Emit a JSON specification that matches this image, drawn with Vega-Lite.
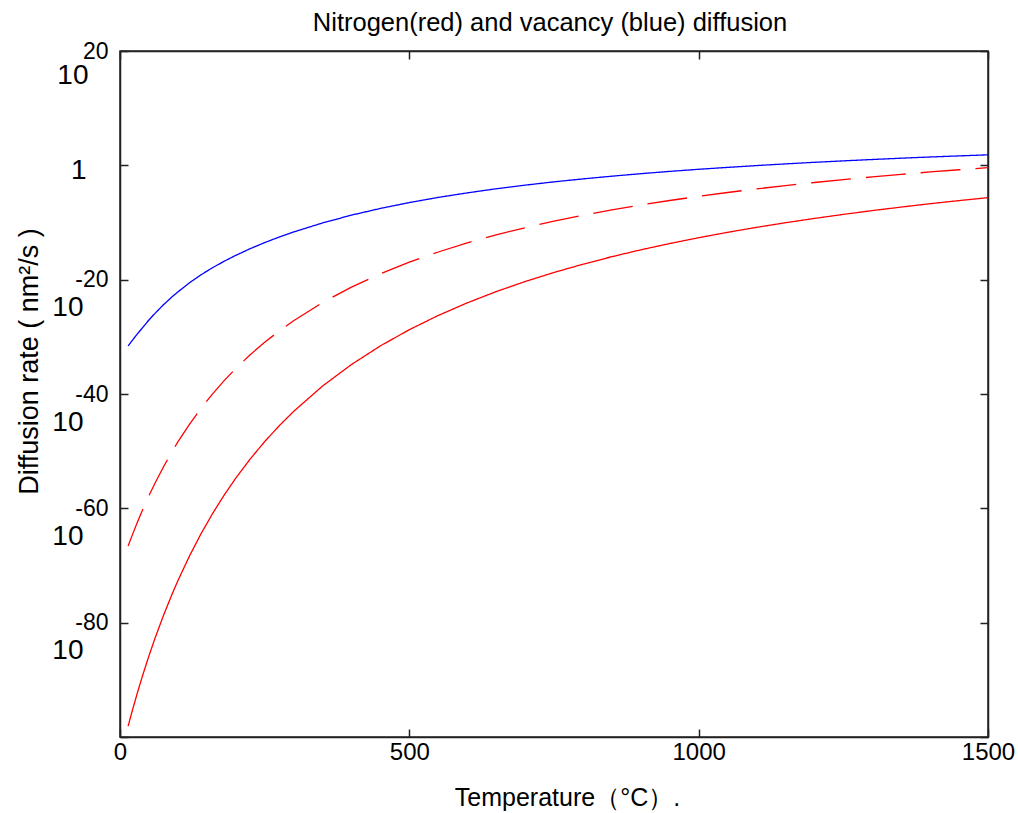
{
  "$schema": "https://vega.github.io/schema/vega-lite/v6.json",
  "width": 868,
  "height": 686,
  "autosize": {"type": "none"},
  "padding": {"left": 120, "top": 51, "right": 30, "bottom": 76},
  "background": "white",
  "config": {
    "font": "Liberation Sans",
    "view": {"stroke": "#222", "strokeWidth": 1.5},
    "axis": {"grid": false, "domainColor": "#222", "domainWidth": 1.5, "tickColor": "#222", "tickWidth": 1.5, "labelColor": "#000", "titleColor": "#000", "titleFontWeight": "normal", "labelFont": "Liberation Sans", "titleFont": "Liberation Sans"}
  },
  "title": {"text": "Nitrogen(red) and vacancy (blue) diffusion", "fontSize": 25.5, "fontWeight": "normal", "color": "#000", "font": "Liberation Sans", "anchor": "middle", "frame": "group", "baseline": "alphabetic", "offset": 19, "dx": -4, "dy": 35},
  "datasets": {
    "curves": [
      {"T": 14, "series": "Vacancy", "log10D": -31.60},
      {"T": 20, "series": "Vacancy", "log10D": -30.78},
      {"T": 30, "series": "Vacancy", "log10D": -29.49},
      {"T": 40, "series": "Vacancy", "log10D": -28.28},
      {"T": 50, "series": "Vacancy", "log10D": -27.05},
      {"T": 60, "series": "Vacancy", "log10D": -25.95},
      {"T": 75, "series": "Vacancy", "log10D": -24.40},
      {"T": 90, "series": "Vacancy", "log10D": -23.00},
      {"T": 100, "series": "Vacancy", "log10D": -22.15},
      {"T": 120, "series": "Vacancy", "log10D": -20.55},
      {"T": 140, "series": "Vacancy", "log10D": -19.15},
      {"T": 160, "series": "Vacancy", "log10D": -17.90},
      {"T": 180, "series": "Vacancy", "log10D": -16.78},
      {"T": 200, "series": "Vacancy", "log10D": -15.75},
      {"T": 225, "series": "Vacancy", "log10D": -14.58},
      {"T": 250, "series": "Vacancy", "log10D": -13.52},
      {"T": 275, "series": "Vacancy", "log10D": -12.55},
      {"T": 300, "series": "Vacancy", "log10D": -11.66},
      {"T": 350, "series": "Vacancy", "log10D": -10.08},
      {"T": 400, "series": "Vacancy", "log10D": -8.71},
      {"T": 450, "series": "Vacancy", "log10D": -7.54},
      {"T": 500, "series": "Vacancy", "log10D": -6.51},
      {"T": 550, "series": "Vacancy", "log10D": -5.61},
      {"T": 600, "series": "Vacancy", "log10D": -4.82},
      {"T": 650, "series": "Vacancy", "log10D": -4.10},
      {"T": 700, "series": "Vacancy", "log10D": -3.47},
      {"T": 750, "series": "Vacancy", "log10D": -2.89},
      {"T": 800, "series": "Vacancy", "log10D": -2.37},
      {"T": 850, "series": "Vacancy", "log10D": -1.90},
      {"T": 900, "series": "Vacancy", "log10D": -1.46},
      {"T": 950, "series": "Vacancy", "log10D": -1.06},
      {"T": 1000, "series": "Vacancy", "log10D": -0.69},
      {"T": 1050, "series": "Vacancy", "log10D": -0.36},
      {"T": 1100, "series": "Vacancy", "log10D": -0.04},
      {"T": 1150, "series": "Vacancy", "log10D": 0.25},
      {"T": 1200, "series": "Vacancy", "log10D": 0.53},
      {"T": 1250, "series": "Vacancy", "log10D": 0.78},
      {"T": 1300, "series": "Vacancy", "log10D": 1.02},
      {"T": 1350, "series": "Vacancy", "log10D": 1.25},
      {"T": 1400, "series": "Vacancy", "log10D": 1.46},
      {"T": 1450, "series": "Vacancy", "log10D": 1.65},
      {"T": 1500, "series": "Vacancy", "log10D": 1.84},
      {"T": 14, "series": "Nitrogen (dashed)", "log10D": -66.60},
      {"T": 20, "series": "Nitrogen (dashed)", "log10D": -64.99},
      {"T": 30, "series": "Nitrogen (dashed)", "log10D": -62.43},
      {"T": 40, "series": "Nitrogen (dashed)", "log10D": -60.04},
      {"T": 50, "series": "Nitrogen (dashed)", "log10D": -57.80},
      {"T": 60, "series": "Nitrogen (dashed)", "log10D": -55.69},
      {"T": 75, "series": "Nitrogen (dashed)", "log10D": -52.76},
      {"T": 90, "series": "Nitrogen (dashed)", "log10D": -50.06},
      {"T": 100, "series": "Nitrogen (dashed)", "log10D": -48.39},
      {"T": 120, "series": "Nitrogen (dashed)", "log10D": -45.30},
      {"T": 140, "series": "Nitrogen (dashed)", "log10D": -42.50},
      {"T": 160, "series": "Nitrogen (dashed)", "log10D": -39.97},
      {"T": 180, "series": "Nitrogen (dashed)", "log10D": -37.66},
      {"T": 200, "series": "Nitrogen (dashed)", "log10D": -35.54},
      {"T": 225, "series": "Nitrogen (dashed)", "log10D": -33.13},
      {"T": 250, "series": "Nitrogen (dashed)", "log10D": -30.96},
      {"T": 275, "series": "Nitrogen (dashed)", "log10D": -28.98},
      {"T": 300, "series": "Nitrogen (dashed)", "log10D": -27.18},
      {"T": 350, "series": "Nitrogen (dashed)", "log10D": -24.00},
      {"T": 400, "series": "Nitrogen (dashed)", "log10D": -21.30},
      {"T": 450, "series": "Nitrogen (dashed)", "log10D": -18.97},
      {"T": 500, "series": "Nitrogen (dashed)", "log10D": -16.94},
      {"T": 550, "series": "Nitrogen (dashed)", "log10D": -15.16},
      {"T": 600, "series": "Nitrogen (dashed)", "log10D": -13.58},
      {"T": 650, "series": "Nitrogen (dashed)", "log10D": -12.17},
      {"T": 700, "series": "Nitrogen (dashed)", "log10D": -10.91},
      {"T": 750, "series": "Nitrogen (dashed)", "log10D": -9.77},
      {"T": 800, "series": "Nitrogen (dashed)", "log10D": -8.74},
      {"T": 850, "series": "Nitrogen (dashed)", "log10D": -7.80},
      {"T": 900, "series": "Nitrogen (dashed)", "log10D": -6.94},
      {"T": 950, "series": "Nitrogen (dashed)", "log10D": -6.15},
      {"T": 1000, "series": "Nitrogen (dashed)", "log10D": -5.42},
      {"T": 1050, "series": "Nitrogen (dashed)", "log10D": -4.75},
      {"T": 1100, "series": "Nitrogen (dashed)", "log10D": -4.12},
      {"T": 1150, "series": "Nitrogen (dashed)", "log10D": -3.54},
      {"T": 1200, "series": "Nitrogen (dashed)", "log10D": -3.00},
      {"T": 1250, "series": "Nitrogen (dashed)", "log10D": -2.50},
      {"T": 1300, "series": "Nitrogen (dashed)", "log10D": -2.02},
      {"T": 1350, "series": "Nitrogen (dashed)", "log10D": -1.58},
      {"T": 1400, "series": "Nitrogen (dashed)", "log10D": -1.16},
      {"T": 1450, "series": "Nitrogen (dashed)", "log10D": -0.77},
      {"T": 1500, "series": "Nitrogen (dashed)", "log10D": -0.40},
      {"T": 14, "series": "Nitrogen", "log10D": -98.11},
      {"T": 20, "series": "Nitrogen", "log10D": -95.85},
      {"T": 30, "series": "Nitrogen", "log10D": -92.28},
      {"T": 40, "series": "Nitrogen", "log10D": -88.94},
      {"T": 50, "series": "Nitrogen", "log10D": -85.81},
      {"T": 60, "series": "Nitrogen", "log10D": -82.87},
      {"T": 75, "series": "Nitrogen", "log10D": -78.77},
      {"T": 90, "series": "Nitrogen", "log10D": -75.01},
      {"T": 100, "series": "Nitrogen", "log10D": -72.67},
      {"T": 120, "series": "Nitrogen", "log10D": -68.35},
      {"T": 140, "series": "Nitrogen", "log10D": -64.45},
      {"T": 160, "series": "Nitrogen", "log10D": -60.91},
      {"T": 180, "series": "Nitrogen", "log10D": -57.68},
      {"T": 200, "series": "Nitrogen", "log10D": -54.73},
      {"T": 225, "series": "Nitrogen", "log10D": -51.37},
      {"T": 250, "series": "Nitrogen", "log10D": -48.33},
      {"T": 275, "series": "Nitrogen", "log10D": -45.57},
      {"T": 300, "series": "Nitrogen", "log10D": -43.05},
      {"T": 350, "series": "Nitrogen", "log10D": -38.61},
      {"T": 400, "series": "Nitrogen", "log10D": -34.84},
      {"T": 450, "series": "Nitrogen", "log10D": -31.58},
      {"T": 500, "series": "Nitrogen", "log10D": -28.75},
      {"T": 550, "series": "Nitrogen", "log10D": -26.26},
      {"T": 600, "series": "Nitrogen", "log10D": -24.06},
      {"T": 650, "series": "Nitrogen", "log10D": -22.09},
      {"T": 700, "series": "Nitrogen", "log10D": -20.33},
      {"T": 750, "series": "Nitrogen", "log10D": -18.74},
      {"T": 800, "series": "Nitrogen", "log10D": -17.30},
      {"T": 850, "series": "Nitrogen", "log10D": -15.98},
      {"T": 900, "series": "Nitrogen", "log10D": -14.78},
      {"T": 950, "series": "Nitrogen", "log10D": -13.68},
      {"T": 1000, "series": "Nitrogen", "log10D": -12.66},
      {"T": 1050, "series": "Nitrogen", "log10D": -11.72},
      {"T": 1100, "series": "Nitrogen", "log10D": -10.85},
      {"T": 1150, "series": "Nitrogen", "log10D": -10.04},
      {"T": 1200, "series": "Nitrogen", "log10D": -9.29},
      {"T": 1250, "series": "Nitrogen", "log10D": -8.58},
      {"T": 1300, "series": "Nitrogen", "log10D": -7.92},
      {"T": 1350, "series": "Nitrogen", "log10D": -7.30},
      {"T": 1400, "series": "Nitrogen", "log10D": -6.71},
      {"T": 1450, "series": "Nitrogen", "log10D": -6.17},
      {"T": 1500, "series": "Nitrogen", "log10D": -5.65}
    ]
  },
  "data": {"name": "curves"},
  "layer": [
    {
      "mark": {"type": "line", "strokeWidth": 1.3, "clip": true},
      "encoding": {
        "x": {"field": "T", "type": "quantitative", "scale": {"domain": [0, 1500], "nice": false, "zero": false},
          "axis": {"orient": "bottom", "values": [0, 500, 1000, 1500], "format": "d", "tickSize": -8, "labelPadding": 11, "labelFontSize": 24, "labelFlush": false, "labelBaseline": "top",
            "title": "Temperature（°C）.", "titleFontSize": 25, "titleX": 447, "titleY": 68, "titleBaseline": "alphabetic", "titleAnchor": "start", "titleAlign": "center"}},
        "y": {"field": "log10D", "type": "quantitative", "scale": {"domain": [-100, 20], "nice": false, "zero": false},
          "axis": {"orient": "left", "values": [-100, -80, -60, -40, -20, 0, 20], "tickSize": -8, "labelPadding": 20, "labelFontSize": 23, "labelBaseline": "middle", "labelAlign": "right",
            "labelExpr": "datum.value == 0 || datum.value == -100 ? '' : '' + datum.value",
            "title": "Diffusion rate ( nm²/s )", "titleFontSize": 27, "titleAngle": -90, "titleX": -83, "titleY": 310, "titleBaseline": "alphabetic", "titleAlign": "center"}},
        "color": {"field": "series", "type": "nominal", "scale": {"domain": ["Vacancy", "Nitrogen (dashed)", "Nitrogen"], "range": ["#0000ff", "#ff0000", "#ff0000"]}, "legend": null},
        "strokeDash": {"field": "series", "type": "nominal", "scale": {"domain": ["Vacancy", "Nitrogen (dashed)", "Nitrogen"], "range": [[1, 0], [40, 15], [1, 0]]}, "legend": null}
      }
    },
    {
      "mark": {"type": "line", "opacity": 0},
      "encoding": {
        "x": {"field": "T", "type": "quantitative", "axis": {"orient": "top", "values": [0, 500, 1000, 1500], "tickSize": -8, "labels": false, "title": null}},
        "y": {"field": "log10D", "type": "quantitative", "axis": {"orient": "right", "values": [-100, -80, -60, -40, -20, 0, 20], "tickSize": -8, "labels": false, "title": null}},
        "detail": {"field": "series", "type": "nominal"}
      }
    },
    {
      "mark": {"type": "line", "opacity": 0},
      "encoding": {
        "x": {"field": "T", "type": "quantitative", "axis": null},
        "y": {"field": "log10D", "type": "quantitative", "axis": {"orient": "left", "values": [-100, -80, -60, -40, -20, 0, 20], "ticks": false, "domain": false, "title": null,
          "labelFontSize": 28, "labelBaseline": "middle", "labelAlign": "right",
          "labelExpr": "datum.value == 0 ? '1' : datum.value == -100 ? '' : '10'",
          "labelPadding": {"condition": [{"test": "datum.value == 20", "value": 32}, {"test": "datum.value == 0", "value": 34}], "value": 37},
          "labelOffset": {"condition": [{"test": "datum.value == 20", "value": 24}, {"test": "datum.value == 0", "value": 5}], "value": 28}}},
        "detail": {"field": "series", "type": "nominal"}
      }
    }
  ],
  "resolve": {"axis": {"x": "independent", "y": "independent"}}
}
